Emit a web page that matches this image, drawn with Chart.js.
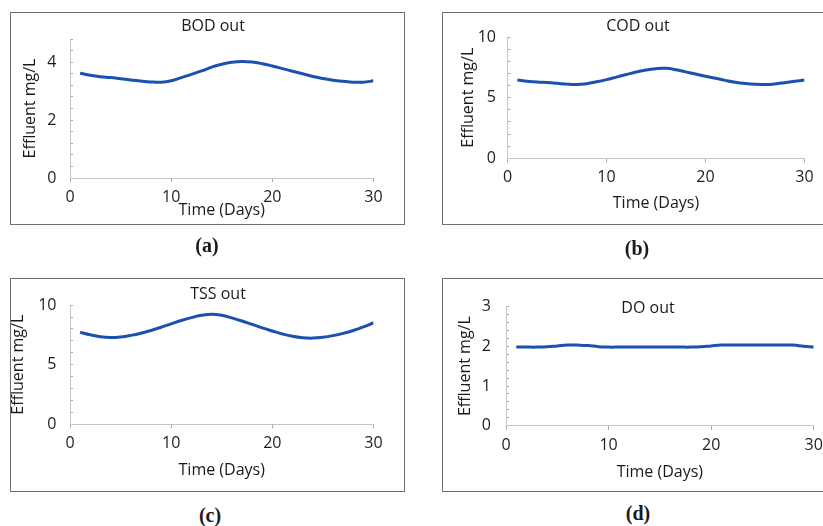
<!DOCTYPE html>
<html>
<head>
<meta charset="utf-8">
<script src="https://cdn.jsdelivr.net/npm/chart.js@4.4.1/dist/chart.umd.min.js"></script>
<style>
  html, body { margin: 0; padding: 0; background: #fff; }
  body { width: 823px; height: 526px; position: relative; overflow: hidden; font-family: 'Open Sans', sans-serif; }
  .box { position: absolute; box-sizing: border-box; border: 1px solid #746e6c; }
  canvas { position: absolute; }
  .ptitle { position: absolute; font-size: 16px; color: #1a1a1a; transform: translate(-50%, -50%); white-space: nowrap; }
  .cap { position: absolute; font-family: 'Liberation Serif', serif; font-weight: bold; font-size: 20px; color: #1a1a1a; transform: translate(-50%, -50%); }
</style>
</head>
<body>
<div class="box" style="left:10px;top:12px;width:395px;height:213px"></div>
<div class="box" style="left:442px;top:12px;width:400px;height:213px"></div>
<div class="box" style="left:10px;top:278px;width:395px;height:214px"></div>
<div class="box" style="left:442px;top:278px;width:400px;height:214px"></div>

<canvas id="chartA"></canvas>
<canvas id="chartB"></canvas>
<canvas id="chartC"></canvas>
<canvas id="chartD"></canvas>

<div class="ptitle" style="left:213px;top:25px">BOD out</div>
<div class="ptitle" style="left:638px;top:25px">COD out</div>
<div class="ptitle" style="left:218px;top:293px">TSS out</div>
<div class="ptitle" style="left:648px;top:307px">DO out</div>

<div class="cap" style="left:207px;top:245px">(a)</div>
<div class="cap" style="left:637px;top:248px">(b)</div>
<div class="cap" style="left:210px;top:515px">(c)</div>
<div class="cap" style="left:638px;top:513px">(d)</div>

<script>
// days of the run
const days = [1, 2, 3, 4, 5, 6, 7, 8, 9, 10, 11, 12, 13, 14, 15, 16, 17, 18, 19, 20, 21, 22, 23, 24, 25, 26, 27, 28, 29, 30];

// effluent values, mg/L
const bodOut = [3.62, 3.55, 3.50, 3.47, 3.43, 3.39, 3.35, 3.32, 3.31, 3.36, 3.47, 3.58, 3.70, 3.83, 3.93, 4.00, 4.03, 4.01, 3.95, 3.87, 3.78, 3.69, 3.60, 3.51, 3.44, 3.38, 3.34, 3.31, 3.31, 3.36];
const codOut = [6.46, 6.36, 6.29, 6.25, 6.19, 6.12, 6.09, 6.16, 6.31, 6.49, 6.70, 6.91, 7.12, 7.29, 7.39, 7.42, 7.31, 7.13, 6.95, 6.77, 6.60, 6.43, 6.28, 6.17, 6.10, 6.09, 6.14, 6.24, 6.35, 6.46];
const tssOut = [7.72, 7.51, 7.35, 7.28, 7.33, 7.46, 7.64, 7.87, 8.14, 8.43, 8.71, 8.95, 9.14, 9.24, 9.15, 8.93, 8.67, 8.38, 8.09, 7.83, 7.58, 7.38, 7.26, 7.23, 7.30, 7.44, 7.63, 7.87, 8.17, 8.52];
const doOut = [1.98, 1.98, 1.98, 1.99, 2.01, 2.03, 2.03, 2.02, 1.99, 1.98, 1.98, 1.98, 1.98, 1.98, 1.98, 1.98, 1.98, 1.98, 1.99, 2.01, 2.03, 2.03, 2.03, 2.03, 2.03, 2.03, 2.03, 2.03, 2.00, 1.98];

// axis ticks
const xTicks = [0, 10, 20, 30];
const yMaxA = 4.8, yMinorA = 0.4, yMajorA = 2;
const yMaxB = 10, yMinorB = 1, yMajorB = 5;
const yMaxC = 10, yMinorC = 1, yMajorC = 5;
const yMaxD = 3, yMinorD = 0.2, yMajorD = 1;

const xTitle = 'Time (Days)';
const yTitle = 'Effluent mg/L';

const FONT = "'Open Sans', sans-serif";

function makePanel(id, values, yMax, yMinor, yMajor, geo) {
    const cv = document.getElementById(id);
    cv.width = geo.cw;
    cv.height = geo.ch;
    cv.style.left = geo.cx + 'px';
    cv.style.top = geo.cy + 'px';

    const points = days.map((d, i) => ({ x: d, y: values[i] }));

    return new Chart(cv.getContext('2d'), {
        type: 'line',
        data: {
            datasets: [{
                data: points,
                borderColor: '#1b50ae',
                borderWidth: 3,
                pointRadius: 0,
                tension: 0.4,
                fill: false
            }]
        },
        options: {
            responsive: false,
            animation: false,
            layout: {
                padding: {
                    left: 0,
                    bottom: 0,
                    top: geo.plotT - geo.cy,
                    right: geo.cx + geo.cw - geo.plotR
                }
            },
            plugins: { legend: { display: false }, tooltip: { enabled: false } },
            scales: {
                x: {
                    type: 'linear',
                    min: xTicks[0],
                    max: xTicks[xTicks.length - 1],
                    afterBuildTicks: (s) => { s.ticks = xTicks.map(v => ({ value: v })); },
                    afterFit: (s) => { s.height = geo.cy + geo.ch - geo.plotB; },
                    grid: { drawOnChartArea: false, drawTicks: true, tickLength: 4, color: '#a8a8a8' },
                    border: { display: true, color: '#c6c6c6', width: 1 },
                    ticks: { padding: 6, color: '#1e1e1e', font: { family: FONT, size: 16 }, maxRotation: 0 },
                    title: {
                        display: true, text: xTitle, color: '#1a1a1a',
                        font: { family: FONT, size: 16 },
                        padding: { top: 0, bottom: geo.xTitlePad }
                    }
                },
                y: {
                    min: 0,
                    max: yMax,
                    afterFit: (s) => { s.width = geo.plotL - geo.cx; },
                    grid: { drawOnChartArea: false, drawTicks: true, tickLength: -3, color: '#a8a8a8' },
                    border: { display: true, color: '#c6c6c6', width: 1 },
                    ticks: {
                        stepSize: yMinor,
                        autoSkip: false,
                        padding: geo.yLabelPad,
                        color: '#1e1e1e',
                        font: { family: FONT, size: 16 },
                        callback: (v) => Math.abs(v / yMajor - Math.round(v / yMajor)) < 1e-6 ? Math.round(v) : ''
                    },
                    title: {
                        display: true, text: yTitle, color: '#1a1a1a',
                        font: { family: FONT, size: 16 },
                        padding: { top: geo.yTitlePad, bottom: 0 }
                    }
                }
            }
        }
    });
}

makePanel('chartA', bodOut, yMaxA, yMinorA, yMajorA,
    { cx: 11, cy: 13, cw: 393, ch: 211, plotL: 70, plotR: 373.5, plotT: 38.8, plotB: 178, xTitlePad: 4.4, yTitlePad: 9.4, yLabelPad: 16.5 });
makePanel('chartB', codOut, yMaxB, yMinorB, yMajorB,
    { cx: 443, cy: 13, cw: 398, ch: 211, plotL: 507.5, plotR: 804.5, plotT: 33.3, plotB: 158.3, xTitlePad: 11.4, yTitlePad: 15.4, yLabelPad: 14.5 });
makePanel('chartC', tssOut, yMaxC, yMinorC, yMajorC,
    { cx: 11, cy: 279, cw: 393, ch: 212, plotL: 70, plotR: 373.5, plotT: 300, plotB: 424.3, xTitlePad: 11.4, yTitlePad: -2.6, yLabelPad: 16.5 });
makePanel('chartD', doOut, yMaxD, yMinorD, yMajorD,
    { cx: 443, cy: 279, cw: 398, ch: 212, plotL: 506, plotR: 813.7, plotT: 304.2, plotB: 425.7, xTitlePad: 9.4, yTitlePad: 12.4, yLabelPad: 18 });
</script>
</body>
</html>
